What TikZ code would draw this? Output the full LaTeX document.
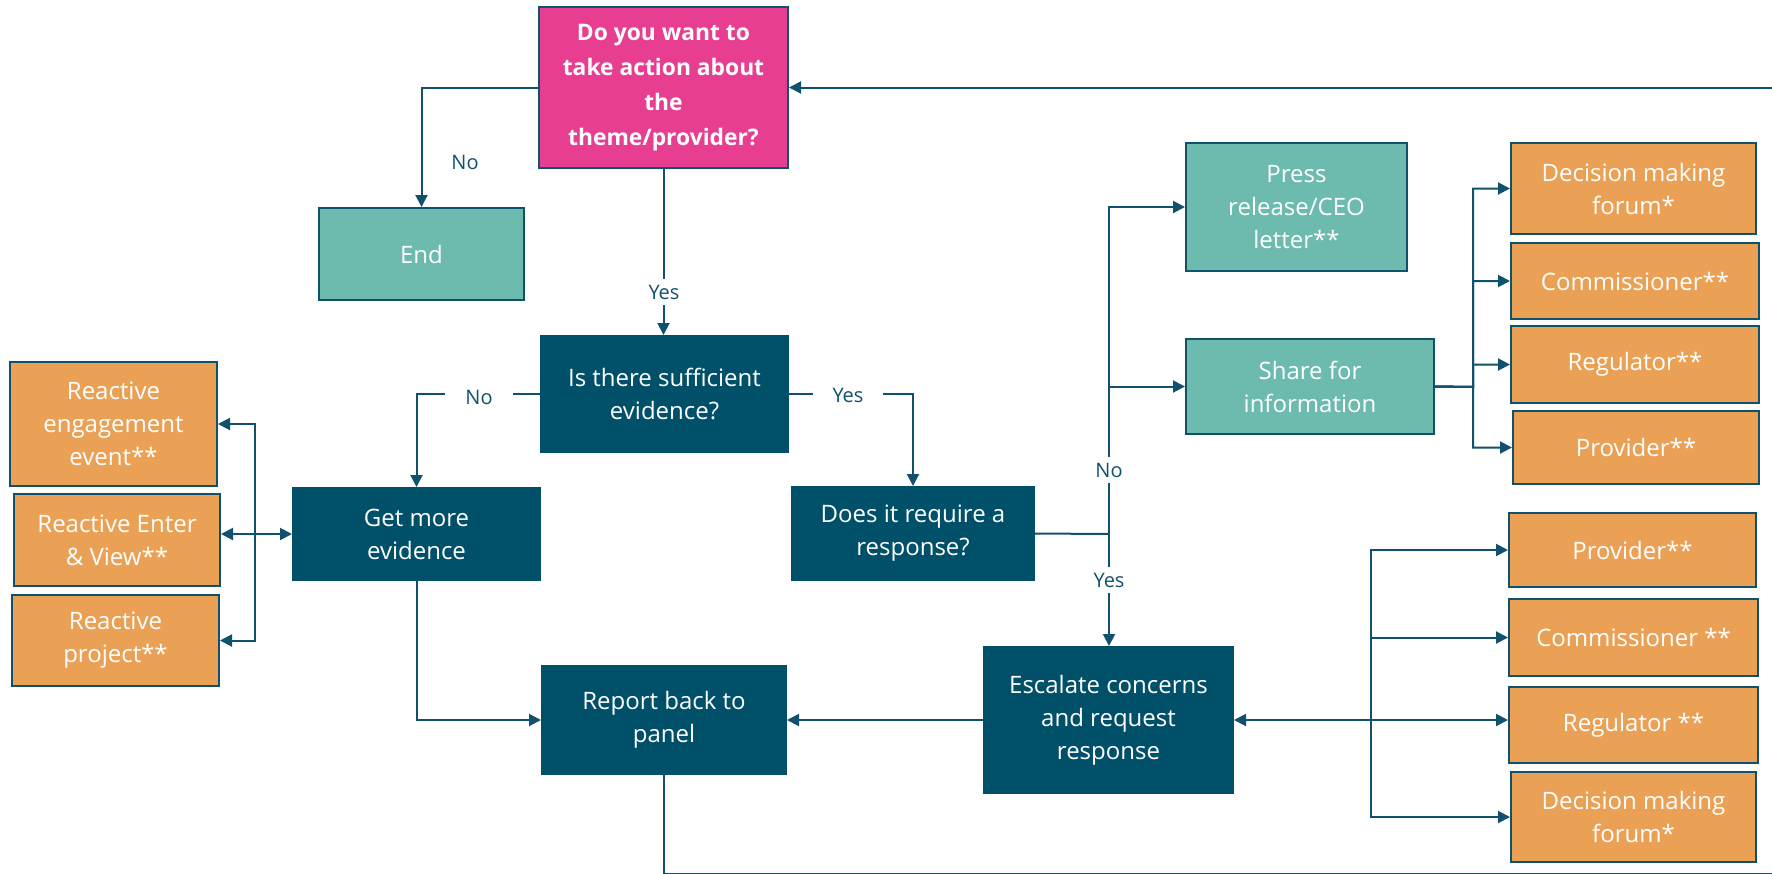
\documentclass[tikz,border=0pt]{standalone}
\usepackage{fontspec}
\setmainfont{Open Sans}
\usetikzlibrary{arrows.meta}
\definecolor{askpink}{HTML}{E83E91}
\definecolor{endteal}{HTML}{6CBBAE}
\definecolor{stepnavy}{HTML}{00506A}
\definecolor{outorange}{HTML}{EBA155}
\definecolor{flowline}{HTML}{10526D}
\begin{document}
\begin{tikzpicture}[x=0.5pt,y=-0.5pt,>={Triangle[length=6pt,width=6pt]},
    boxsize/.style 2 args={minimum width=#1*0.5pt,minimum height=#2*0.5pt},
    box/.style={draw=flowline,line width=1pt,text=white,align=center,inner sep=2pt,
      font=\fontsize{12}{16.5}\selectfont},
    askbox/.style={box,fill=askpink,font=\bfseries\fontsize{11.4}{17.5}\selectfont},
    tealbox/.style={box,fill=endteal},
    navybox/.style={box,fill=stepnavy,draw=stepnavy},
    orangebox/.style={box,fill=outorange},
    flow/.style={draw=flowline,line width=1pt},
    answer/.style={text=flowline,fill=white,inner xsep=10pt,inner ysep=3pt,
      font=\fontsize{10}{12}\selectfont}]
  \useasboundingbox (0,0) rectangle (1772,873);
  \clip (0,0) rectangle (1772,873);
  \fill[white] (0,0) rectangle (1772,873);
  % decisions and steps
  \node[askbox,boxsize={249}{161}] (ask) at (663.5,87.5) {\rule{0pt}{6pt}Do you want to\\take action about\\the\\theme/provider?};
  \node[tealbox,boxsize={205}{92}] (endbox) at (421.5,254) {End};
  \node[navybox,boxsize={247}{116}] (evid) at (664.5,394) {Is there sufficient\\evidence?};
  \node[navybox,boxsize={247}{92}] (getmore) at (416.5,534) {Get more\\evidence};
  \node[navybox,boxsize={242}{93}] (reqresp) at (913,533.5) {Does it require a\\response?};
  \node[navybox,boxsize={249}{146}] (esc) at (1108.5,720) {Escalate concerns\\and request\\response};
  \node[navybox,boxsize={244}{108}] (report) at (664,720) {Report back to\\panel};
  \node[tealbox,boxsize={221}{128}] (press) at (1296.5,207) {Press\\release/CEO\\letter**};
  \node[tealbox,boxsize={248}{95}] (share) at (1310,386.5) {Share for\\information};
  % reactive work
  \node[orangebox,boxsize={207}{124}] (reng) at (113.5,424) {Reactive\\engagement\\event**};
  \node[orangebox,boxsize={206}{92}] (renter) at (117,540) {Reactive Enter\\\& View**};
  \node[orangebox,boxsize={207}{91}] (rproj) at (115.5,640.5) {Reactive\\project**};
  % sharing
  \node[orangebox,boxsize={245}{91}] (dmfa) at (1633.5,188.5) {Decision making\\forum*};
  \node[orangebox,boxsize={248}{76}] (comma) at (1635,281) {Commissioner**};
  \node[orangebox,boxsize={248}{77}] (rega) at (1635,364.5) {Regulator**};
  \node[orangebox,boxsize={246}{73}] (prova) at (1636,447.5) {Provider**};
  % escalation
  \node[orangebox,boxsize={247}{74}] (provb) at (1632.5,550) {Provider**};
  \node[orangebox,boxsize={249}{77}] (commb) at (1633.5,637.5) {Commissioner **};
  \node[orangebox,boxsize={249}{76}] (regb) at (1633.5,725) {Regulator **};
  \node[orangebox,boxsize={245}{90}] (dmfb) at (1633.5,817) {Decision making\\forum*};
  \coordinate (split) at (1109,534);
  \coordinate (sharehub) at (1473,387);
  \coordinate (eschub) at (1371,720);
  \coordinate (reachub) at (255,534);
  % connectors
  \draw[flow,->] (ask.west) -| (endbox.north);
  \draw[flow,->] (ask.south) -- (ask.south |- evid.north);
  \draw[flow,->] (evid.west) -| (getmore.north);
  \draw[flow,->] (evid.east) -| (reqresp.north);
  \draw[flow] (reqresp.east) -- (split);
  \draw[flow,->] (split) |- (press.west);
  \draw[flow,->] (split) |- (share.west);
  \draw[flow,->] (split) -- (split |- esc.north);
  \foreach \b in {dmfa,comma,rega,prova}
    \draw[flow,->] (share.east) -- (sharehub) |- (\b.west);
  \draw[flow,->] (eschub) -- (esc.east);
  \foreach \b in {provb,commb,dmfb}
    \draw[flow,->] (eschub) |- (\b.west);
  \draw[flow,->] (eschub) -- (regb.west |- eschub);
  \draw[flow,<->] (renter.east |- reachub) -- (getmore.west);
  \draw[flow,->] (reachub) |- (reng.east);
  \draw[flow,->] (reachub) |- (rproj.east);
  \draw[flow,->] (getmore.south) |- (report.west);
  \draw[flow,->] (esc.west) -- (report.east);
  \draw[flow,->] (report.south) |- (1790,874) |- (ask.east);
  % answers
  \node[answer,fill=none] (noend) at (465,162) {No};
  \node[answer] (yesevid) at (664,292) {Yes};
  \node[answer] (nomore) at (479,397) {No};
  \node[answer] (yesresp) at (848,395) {Yes};
  \node[answer] (noresp) at (1109,470) {No};
  \node[answer] (yesesc) at (1109,580) {Yes};
\end{tikzpicture}
\end{document}
